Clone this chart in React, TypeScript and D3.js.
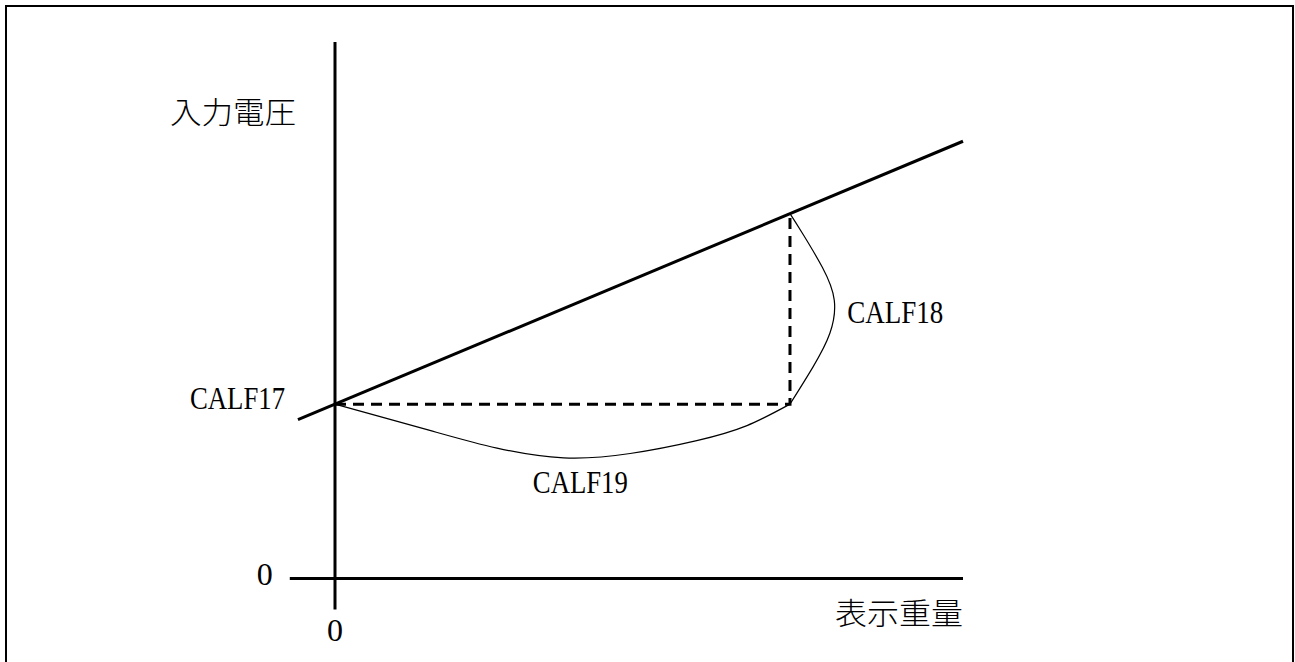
import React from "react";
import * as d3 from "d3";

const W = 1295;
const H = 662;

// calibration sketch: 表示重量 (x) vs 入力電圧 (y), arbitrary units 0..100
const axisWeights = [-7.2, 100];
const axisVolts = [-5.8, 100];

const lineWeights = [-5.9, 100];
const lineVolts = [29.6, 81.5];

const dashWeights = [0, 72.45, 72.45];
const dashVolts = [32.5, 32.5, 68.0];

const calf18Weights = [72.45, 74.4, 77.6, 79.5, 78.8, 76.1, 72.45];
const calf18Volts = [68.0, 64.4, 58.0, 51.9, 45.7, 39.4, 32.5];

const calf19Weights = [0, 15.1, 25.8, 36.4, 47.0, 57.6, 65.6, 72.45];
const calf19Volts = [32.5, 27.6, 24.3, 22.5, 23.3, 25.7, 28.5, 32.5];

const labels = ["CALF17", "CALF18", "CALF19"];
const yTitle = "入力電圧";
const xTitle = "表示重量";

const zip = (a: number[], b: number[]) => a.map((v, i) => [v, b[i]] as [number, number]);

export default function App() {
  const x = d3.scaleLinear().domain([0, 100]).range([335, 963]);
  const y = d3.scaleLinear().domain([0, 100]).range([578.5, 42]);

  const straight = d3.line<[number, number]>().x(d => x(d[0])).y(d => y(d[1]));
  const smooth = d3
    .line<[number, number]>()
    .x(d => x(d[0]))
    .y(d => y(d[1]))
    .curve(d3.curveNatural);

  const serif = "'Liberation Serif', 'Times New Roman', serif";
  const cjk = "'Noto Sans CJK JP', sans-serif";

  return (
    <svg
      width={W}
      height={H}
      style={{ position: "absolute", left: 0, top: 0, display: "block", background: "#fff" }}
    >
      <rect x={6} y={6} width={1287} height={670} fill="none" stroke="#000" strokeWidth={2} />

      {/* axes */}
      <line x1={x(axisWeights[0])} x2={x(axisWeights[1])} y1={y(0)} y2={y(0)} stroke="#000" strokeWidth={3} />
      <line x1={x(0)} x2={x(0)} y1={y(axisVolts[0])} y2={y(axisVolts[1])} stroke="#000" strokeWidth={3} />

      {/* straight characteristic */}
      <path d={straight(zip(lineWeights, lineVolts)) || ""} fill="none" stroke="#000" strokeWidth={3} />

      {/* dashed guides */}
      <path
        d={straight(zip(dashWeights, dashVolts)) || ""}
        fill="none"
        stroke="#000"
        strokeWidth={3}
        strokeDasharray="11,7"
      />

      {/* curves */}
      <path d={smooth(zip(calf18Weights, calf18Volts)) || ""} fill="none" stroke="#000" strokeWidth={1.2} />
      <path d={smooth(zip(calf19Weights, calf19Volts)) || ""} fill="none" stroke="#000" strokeWidth={1.2} />

      {/* labels */}
      <g fontFamily={serif} fontSize={32} fill="#000">
        <text x={x(0) - 145} y={y(32.5) + 5} textLength={95} lengthAdjust="spacingAndGlyphs">
          {labels[0]}
        </text>
        <text x={x(79.5) + 13} y={y(51.9) + 23} textLength={96} lengthAdjust="spacingAndGlyphs">
          {labels[1]}
        </text>
        <text x={x(31.5)} y={y(22.6) + 36} textLength={95} lengthAdjust="spacingAndGlyphs">
          {labels[2]}
        </text>
        <text x={x(axisWeights[0]) - 25} y={y(0) + 6} textAnchor="middle">0</text>
        <text x={x(0)} y={y(0) + 62} textAnchor="middle">0</text>
      </g>
      <g fontFamily={cjk} fontSize={30} fontWeight={300} fill="#000">
        <text x={170} y={110} dominantBaseline="central" textLength={126} lengthAdjust="spacingAndGlyphs">
          {yTitle}
        </text>
        <text x={x(100)} y={611} textAnchor="end" dominantBaseline="central" textLength={128} lengthAdjust="spacingAndGlyphs">
          {xTitle}
        </text>
      </g>
    </svg>
  );
}
